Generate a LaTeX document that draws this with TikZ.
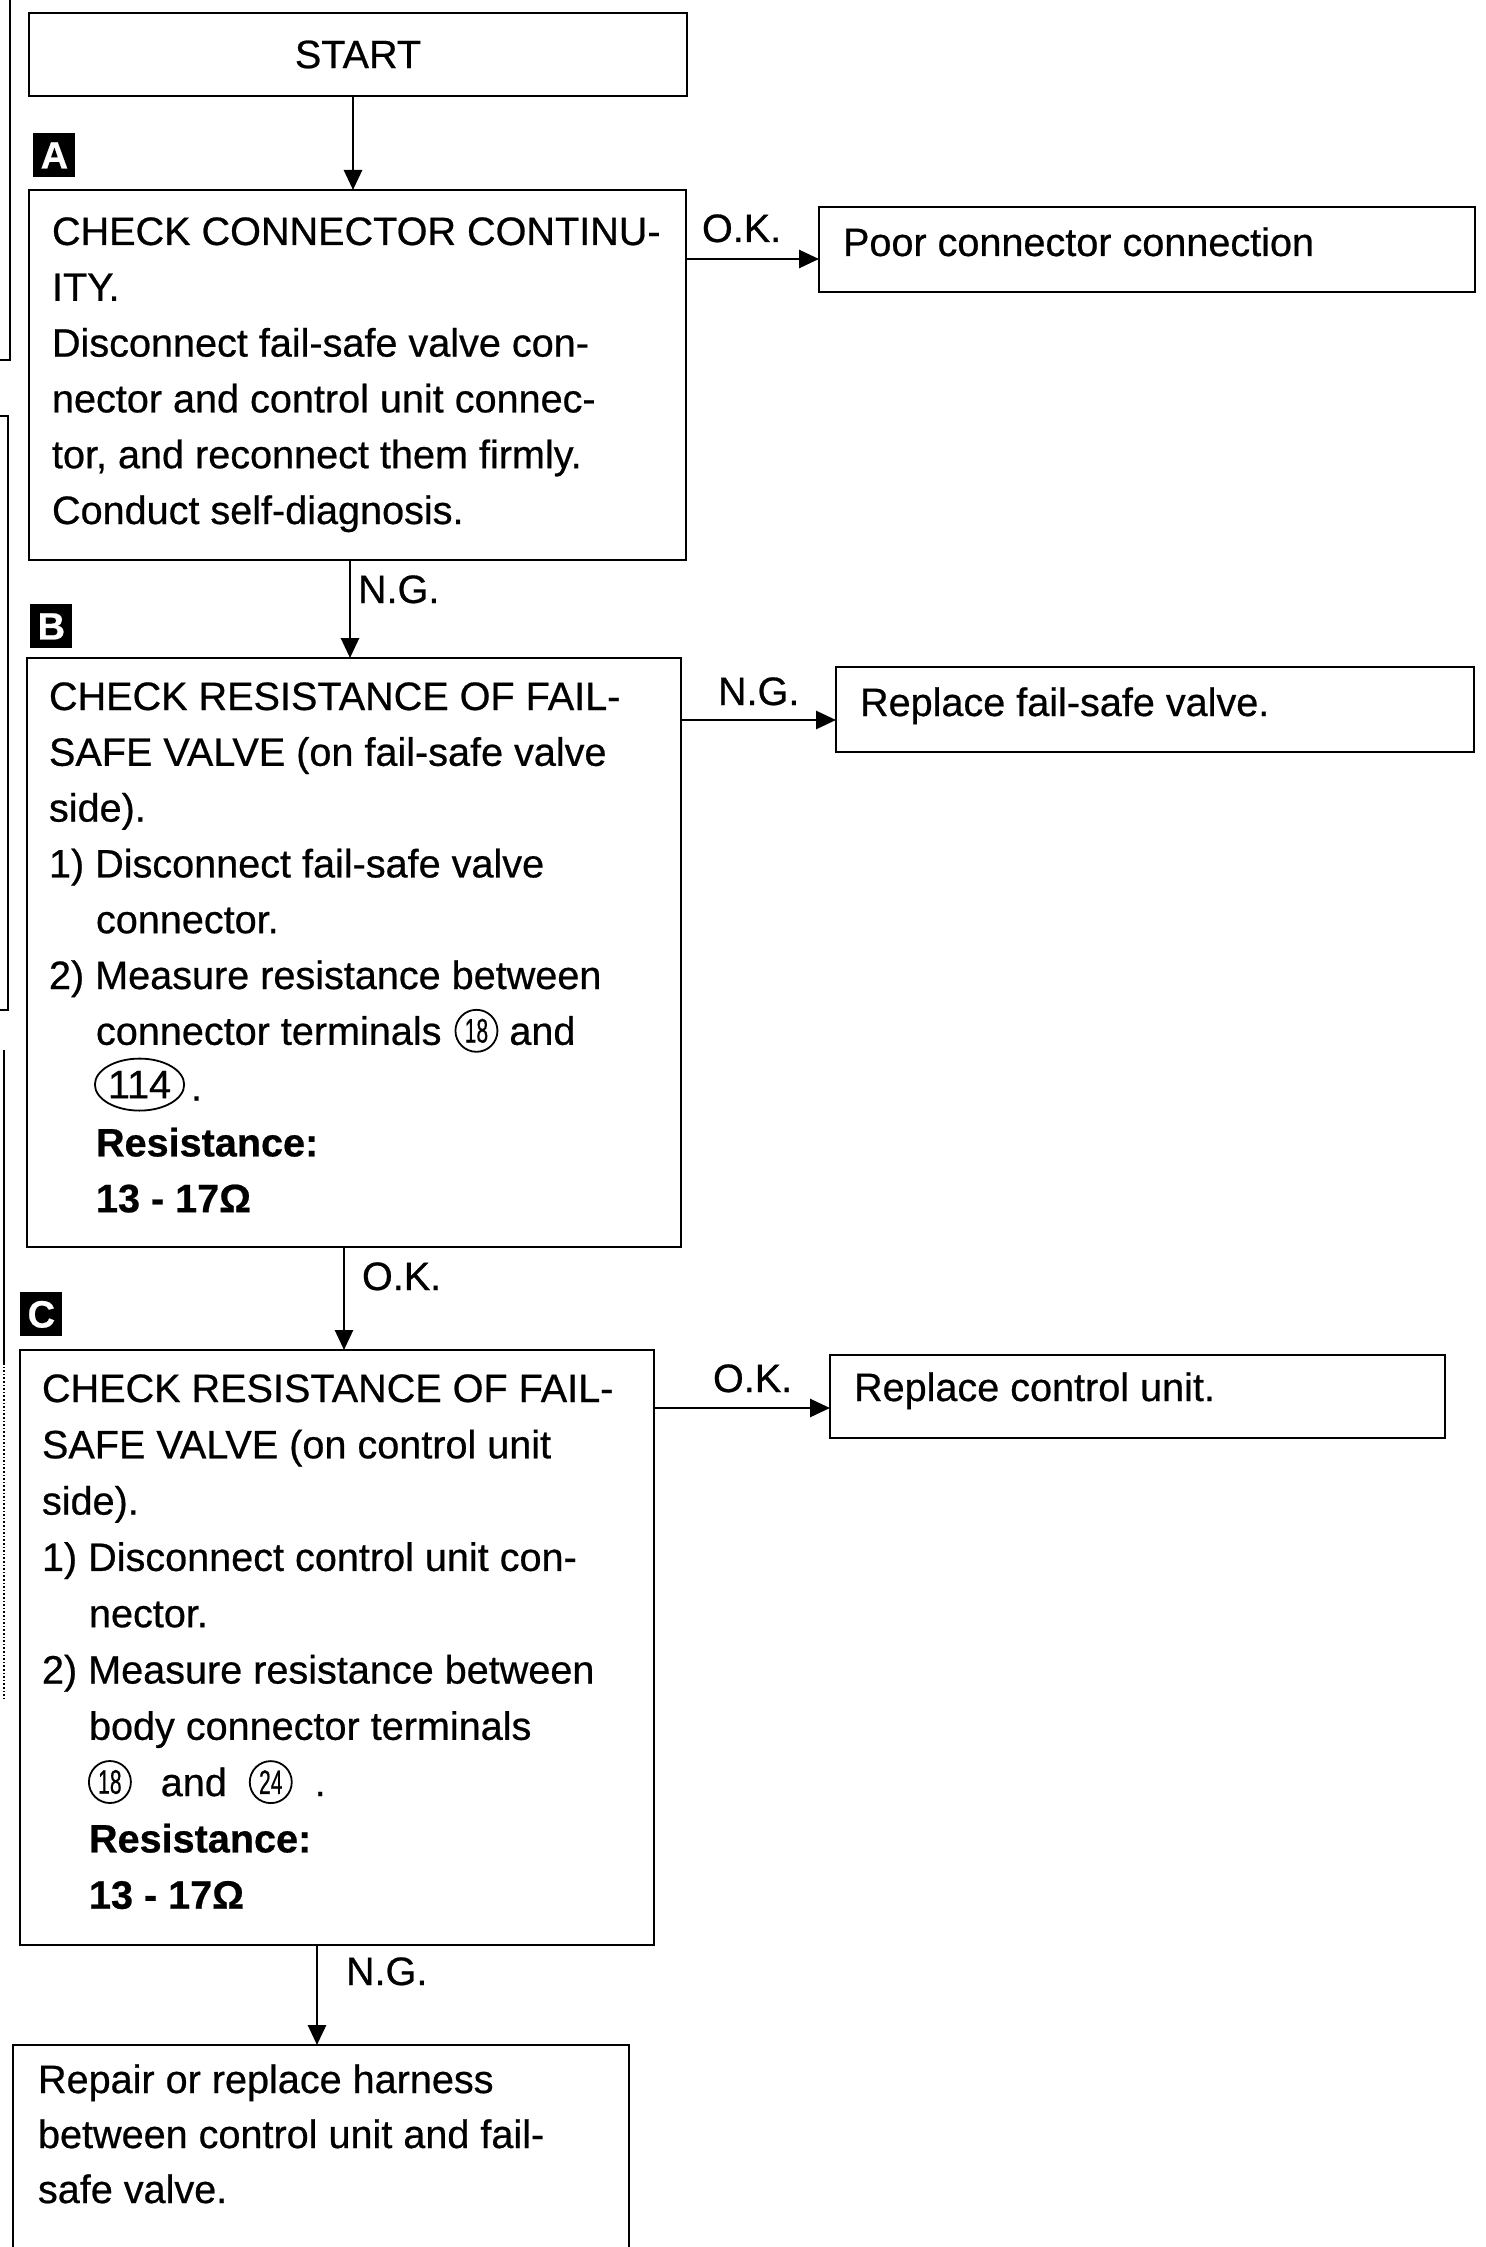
\documentclass[tikz,border=0pt]{standalone}
\usepackage{fontspec}
\setmainfont[FakeBold=0.6]{Liberation Sans}
\usepackage{graphicx}
\usetikzlibrary{arrows.meta,calc,shapes.geometric}
\newcommand\bodyfont{\fontsize{19.8pt}{27.8pt}\selectfont}
\newcommand\ind{\hspace*{23.5pt}}
\newcommand\cn[1]{\scalebox{0.62}[1]{#1}}
\newcommand\textlines[5]{\foreach \t [count=\i] in {#5} {\node[txt] (#1\i) at (#2,{#3+#4*(\i-1)}) {\t};}}
\newcommand\boxat[5]{\node[boxnode, minimum width={(#4-#2)*0.5pt}, minimum height={(#5-#3)*0.5pt}] (#1) at (#2,#3) {};}
\begin{document}
\begin{tikzpicture}[x=0.5pt,y=-0.5pt,
  txt/.style={anchor=base west, inner sep=0pt, outer sep=0pt, font=\bodyfont},
  boxnode/.style={draw, line width=1.3pt, inner sep=0pt, outer sep=0pt, anchor=north west},
  arr/.style={line width=1.4pt, -{Triangle[width=9pt,length=10pt]}},
  lbl/.style={fill=black, text=white, font=\fontsize{19pt}{19pt}\selectfont\bfseries, anchor=north west, inner sep=0pt, minimum width=21pt, minimum height=22pt},
  circnum/.style={circle, draw, line width=0.9pt, minimum size=21pt, inner sep=0pt, font=\fontsize{17pt}{17pt}\selectfont},
  oval/.style={ellipse, draw, line width=0.9pt, minimum width=44pt, minimum height=26pt, inner sep=0pt, font=\bodyfont},
  artifact/.style={line width=0.8pt}]
\useasboundingbox (0,0) rectangle (1485,2247);
\clip (0,0) rectangle (1485,2247);

% scan fragments at the left edge
\draw[artifact] (10,0) -- (10,360) -- (0,360);
\draw[artifact] (0,416) -- (8,416) -- (8,1010) -- (0,1010);
\draw[artifact] (4,1050) -- (4,1363);
\draw[artifact, densely dotted] (4,1363) -- (4,1700);

% START
\boxat{start}{29}{13}{687}{96}
\node[txt, anchor=center] (starttxt) at (start.center) {START};

% A
\node[lbl] (labA) at (33,133) {A};
\boxat{boxA}{29}{190}{686}{560}
\textlines{a}{52}{245}{55.8}{CHECK CONNECTOR CONTINU-,ITY.,Disconnect fail-safe valve con-,nector and control unit connec-,{tor, and reconnect them firmly.},Conduct self-diagnosis.}
\coordinate (xA) at (353,0);
\draw[arr] (start.south -| xA) -- (boxA.north -| xA);

\boxat{poor}{819}{207}{1475}{292}
\node[txt] (poortxt) at (843,256) {Poor connector connection};
\coordinate (yA) at (0,259);
\draw[arr] (boxA.east |- yA) -- (poor.west |- yA);
\node[txt] (ok1) at (702,242) {O.K.};

% B
\node[lbl] (labB) at (30,604) {B};
\boxat{boxB}{27}{658}{681}{1247}
\coordinate (xB) at (350,0);
\draw[arr] (boxA.south -| xB) -- (boxB.north -| xB);
\node[txt] (ng1) at (358,603) {N.G.};
\textlines{b}{49}{710}{55.8}{CHECK RESISTANCE OF FAIL-,SAFE VALVE (on fail-safe valve,side).,1) Disconnect fail-safe valve,\ind connector.,2) Measure resistance between,\ind connector terminals}
\node[circnum, anchor=west] (b18) at ($(b7.base east)+(13,-14)$) {\cn{18}};
\node[txt] (band) at ($(b18.east |- b7.base)+(11,0)$) {and};
\coordinate (b8base) at (0,1100.6);
\node[oval, anchor=west] (b114) at (94,1084.6) {114};
\node[txt] (bdot) at ($(b114.east |- b8base)+(6,0)$) {.};
\node[txt] (b9) at (49,1156.4) {\ind\bfseries Resistance:};
\node[txt] (b10) at (49,1212.2) {\ind\bfseries 13 - 17Ω};

\boxat{replfs}{836}{667}{1474}{752}
\node[txt] (replfstxt) at (860,716) {Replace fail-safe valve.};
\coordinate (yB) at (0,720);
\draw[arr] (boxB.east |- yB) -- (replfs.west |- yB);
\node[txt] (ng2) at (718,705) {N.G.};

% C
\node[lbl] (labC) at (20,1292) {C};
\boxat{boxC}{20}{1350}{654}{1945}
\coordinate (xC) at (344,0);
\draw[arr] (boxB.south -| xC) -- (boxC.north -| xC);
\node[txt] (ok2) at (362,1290) {O.K.};
\textlines{c}{42}{1402}{56.3}{CHECK RESISTANCE OF FAIL-,SAFE VALVE (on control unit,side).,1) Disconnect control unit con-,\ind nector.,2) Measure resistance between,\ind body connector terminals}
\coordinate (c8base) at (0,1796.1);
\node[circnum, anchor=west] (c18) at (88,1782) {\cn{18}};
\node[txt] (cand) at ($(c18.east |- c8base)+(29,0)$) {and};
\node[circnum, anchor=west] (c24) at ($(cand.base east)+(22,-14)$) {\cn{24}};
\node[txt] (cdot) at ($(c24.east |- c8base)+(22,0)$) {.};
\node[txt] (c9) at (42,1852.4) {\ind\bfseries Resistance:};
\node[txt] (c10) at (42,1908.7) {\ind\bfseries 13 - 17Ω};

\boxat{replcu}{830}{1355}{1445}{1438}
\node[txt] (replcutxt) at (854,1401) {Replace control unit.};
\coordinate (yC) at (0,1408);
\draw[arr] (boxC.east |- yC) -- (replcu.west |- yC);
\node[txt] (ok3) at (713,1392) {O.K.};

% final
\boxat{final}{13}{2045}{629}{2270}
\coordinate (xD) at (317,0);
\draw[arr] (boxC.south -| xD) -- (final.north -| xD);
\node[txt] (ng3) at (346,1985) {N.G.};
\textlines{f}{38}{2093}{55}{Repair or replace harness,between control unit and fail-,safe valve.}
\end{tikzpicture}
\end{document}
